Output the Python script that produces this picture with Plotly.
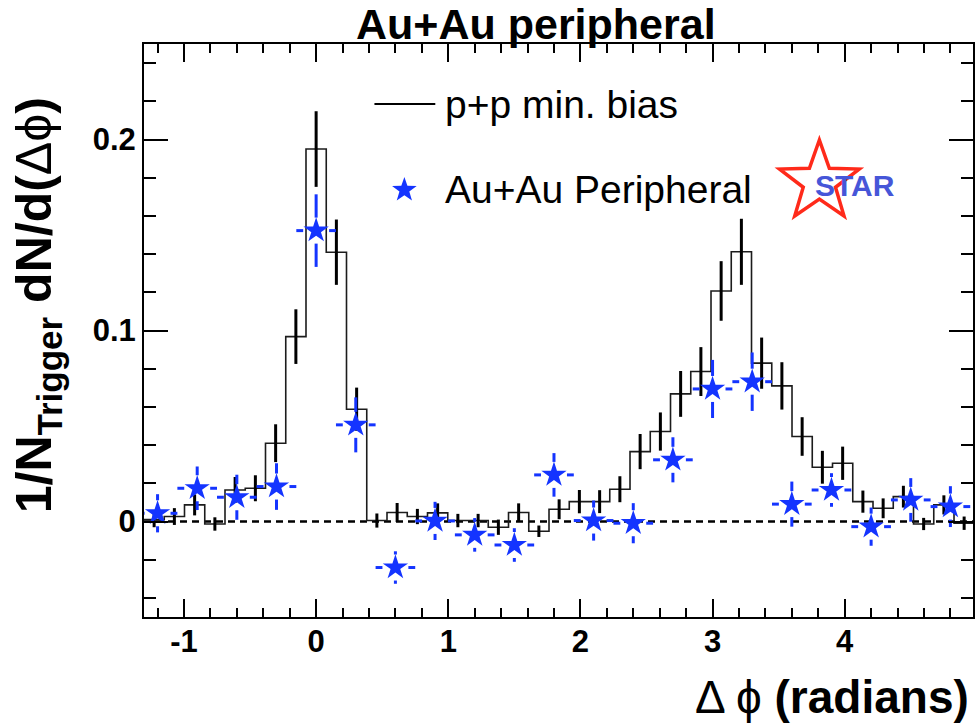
import numpy as np
import plotly.graph_objects as go

# ---------------- data ----------------
BIN_WIDTH = 2 * np.pi / 41          # p+p histogram bin width (41 bins over 2*pi)
pp_bin_index = list(range(-8, 33))  # bin centres = index * BIN_WIDTH
pp_values = [0.001, 0.0026, 0.0087, -0.0013, 0.0165, 0.0174, 0.041, 0.0968, 0.195, 0.141,
             0.0588, 0.0005, 0.0047, 0.0026, 0.0045, 0.0005, 0.0005, -0.003, 0.0047, -0.0051,
             0.0064, 0.0104, 0.0104, 0.0169, 0.0366, 0.0471, 0.0668, 0.0785, 0.1207, 0.1412,
             0.0829, 0.071, 0.0445, 0.0284, 0.0305, 0.0104, 0.0069, 0.013, -0.0013, 0.0087,
             -0.0009]
pp_errors = [0.004, 0.0044, 0.0055, 0.0035, 0.0068, 0.0068, 0.0099, 0.0143, 0.0198, 0.0171,
             0.0113, 0.0037, 0.005, 0.004, 0.005, 0.0035, 0.0035, 0.004, 0.0048, 0.003,
             0.0052, 0.0061, 0.006, 0.0068, 0.0092, 0.01, 0.012, 0.0128, 0.0156, 0.0173,
             0.0134, 0.0124, 0.0101, 0.0086, 0.0087, 0.0058, 0.0052, 0.0057, 0.0032, 0.005,
             0.0035]

auau_x = [-1.2, -0.9, -0.6, -0.3, 0.0, 0.3, 0.6, 0.9, 1.2, 1.5, 1.8, 2.1, 2.4, 2.7, 3.0,
          3.3, 3.6, 3.9, 4.2, 4.5, 4.8]
auau_y = [0.0043, 0.0174, 0.0127, 0.0183, 0.1523, 0.0506, -0.0241, 0.0003, -0.007, -0.0123,
          0.0244, 0.0005, -0.0009, 0.0323, 0.0694, 0.0732, 0.0091, 0.0165, -0.0027, 0.0113,
          0.0078]
auau_yerr = [0.010, 0.0114, 0.0118, 0.0122, 0.019, 0.0144, 0.0085, 0.010, 0.0088, 0.0088,
             0.0114, 0.0105, 0.0105, 0.0118, 0.0152, 0.0153, 0.0118, 0.0088, 0.010, 0.0114,
             0.0107]
auau_xerr = [0.15] * 21

x_tick_vals = [-1, 0, 1, 2, 3, 4]
x_tick_text = ["-1", "0", "1", "2", "3", "4"]
y_tick_vals = [0, 0.1, 0.2]
y_tick_text = ["0", "0.1", "0.2"]

# ---------------- layout geometry ----------------
W, H = 975, 726
ML, MR, MT, MB = 144, 0, 44, 109
PW, PH = W - ML - MR, H - MT - MB
XRANGE = [-8.5 * BIN_WIDTH, 4.971]
YRANGE = [-0.05, 0.25]
px_per_x = PW / (XRANGE[1] - XRANGE[0])
px_per_y = PH / (YRANGE[1] - YRANGE[0])

def paper_x(px):
    return (px - ML) / PW

def paper_y(py):
    return (H - MB - py) / PH

FONT = "Liberation Sans"
BLUE = "#1434ff"

fig = go.Figure()

# p+p histogram (step line)
centers = np.array(pp_bin_index) * BIN_WIDTH
edges = np.append(centers - BIN_WIDTH / 2, centers[-1] + BIN_WIDTH / 2)
step_y = list(pp_values) + [pp_values[-1]]
fig.add_trace(go.Scatter(x=edges, y=step_y, mode="lines",
                         line=dict(shape="hv", color="#1c1c1c", width=1.6),
                         hoverinfo="skip"))
# p+p error bars
fig.add_trace(go.Scatter(x=centers, y=pp_values, mode="markers",
                         marker=dict(size=1, color="rgba(0,0,0,0)"),
                         error_y=dict(type="data", array=pp_errors, color="black",
                                      thickness=3, width=0)))

# Au+Au error bars (segments outside the marker)
gap_px = 13
gx, gy = gap_px / px_per_x, gap_px / px_per_y
ex, ey = [], []
for x, y, dx, dy in zip(auau_x, auau_y, auau_xerr, auau_yerr):
    if dy > gy:
        ex += [x, x, None, x, x, None]
        ey += [y + gy, y + dy, None, y - gy, y - dy, None]
    ex += [x - dx, x - gx, None, x + gx, x + dx, None]
    ey += [y, y, None, y, y, None]
fig.add_trace(go.Scatter(x=ex, y=ey, mode="lines",
                         line=dict(color=BLUE, width=3), hoverinfo="skip"))
# Au+Au stars
fig.add_trace(go.Scatter(x=auau_x, y=auau_y, mode="markers",
                         marker=dict(symbol="star", size=19, color=BLUE,
                                     line=dict(width=0))))

# zero line
shapes = [dict(type="line", xref="paper", x0=0, x1=1, yref="y", y0=0, y1=0,
               line=dict(color="black", width=2.5, dash="7px,5px"), layer="below")]


def star_path(cx, cy, R, r):
    pts = []
    for i in range(10):
        ang = np.pi / 2 + i * np.pi / 5
        rad = R if i % 2 == 0 else r
        pts.append((paper_x(cx + rad * np.cos(ang)), paper_y(cy - rad * np.sin(ang))))
    return "M " + " L ".join(f"{a:.5f},{b:.5f}" for a, b in pts) + " Z"

# legend line
shapes.append(dict(type="line", xref="paper", yref="paper",
                   x0=paper_x(375), x1=paper_x(436), y0=paper_y(104), y1=paper_y(104),
                   line=dict(color="black", width=2)))
# legend star
shapes.append(dict(type="path", xref="paper", yref="paper",
                   path=star_path(405, 190, 13, 5.2), fillcolor=BLUE,
                   line=dict(width=0)))
# STAR logo outline
shapes.append(dict(type="path", xref="paper", yref="paper",
                   path=star_path(821, 182, 42, 17), fillcolor="rgba(0,0,0,0)",
                   line=dict(color="#ff2a1a", width=3.5)))

annotations = [
    dict(text="Au+Au peripheral", xref="paper", yref="paper", x=paper_x(537), y=paper_y(24),
         xanchor="center", yanchor="middle", showarrow=False,
         font=dict(family=FONT, size=43, color="black", weight="bold")),
    dict(text="p+p min. bias", xref="paper", yref="paper", x=paper_x(444), y=paper_y(104),
         xanchor="left", yanchor="middle", showarrow=False,
         font=dict(family=FONT, size=39, color="black")),
    dict(text="Au+Au Peripheral", xref="paper", yref="paper", x=paper_x(444), y=paper_y(189),
         xanchor="left", yanchor="middle", showarrow=False,
         font=dict(family=FONT, size=39, color="black")),
    dict(text="<b>STAR</b>", xref="paper", yref="paper", x=paper_x(857), y=paper_y(186),
         xanchor="center", yanchor="middle", showarrow=False,
         font=dict(family=FONT, size=30, color="#4656d8")),
    dict(text="Δ ϕ <b>(radians)</b>", xref="paper", yref="paper", x=paper_x(973), y=paper_y(697),
         xanchor="right", yanchor="middle", showarrow=False,
         font=dict(family=FONT, size=46, color="black")),
    dict(text="<b>1/N<sub>Trigger</sub> dN/d(</b>Δϕ<b>)</b>", xref="paper", yref="paper",
         x=paper_x(37), y=paper_y(95), xanchor="center", yanchor="top", textangle=-90,
         showarrow=False, font=dict(family=FONT, size=50, color="black")),
]

fig.update_layout(
    width=W, height=H, margin=dict(l=ML, r=MR, t=MT, b=MB),
    paper_bgcolor="white", plot_bgcolor="white", showlegend=False,
    shapes=shapes, annotations=annotations,
)
fig.update_xaxes(range=XRANGE, showgrid=False, zeroline=False, showline=True,
                 linecolor="black", linewidth=2, mirror="ticks",
                 ticks="inside", ticklen=18, tickwidth=2, tickcolor="black",
                 tickmode="array", tickvals=x_tick_vals, ticktext=x_tick_text,
                 ticklabelstandoff=-4,
                 tickfont=dict(family=FONT, size=31, color="black", weight="bold"),
                 minor=dict(tickmode="linear", tick0=0, dtick=0.2, ticks="inside",
                            ticklen=9, tickwidth=2, tickcolor="black", showgrid=False))
fig.update_yaxes(range=YRANGE, showgrid=False, zeroline=False, showline=True,
                 linecolor="black", linewidth=2, mirror="ticks",
                 ticks="inside", ticklen=24, tickwidth=2, tickcolor="black",
                 tickmode="array", tickvals=y_tick_vals, ticktext=y_tick_text,
                 ticklabelstandoff=0,
                 tickfont=dict(family=FONT, size=31, color="black", weight="bold"),
                 minor=dict(tickmode="linear", tick0=0, dtick=0.02, ticks="inside",
                            ticklen=12, tickwidth=2, tickcolor="black", showgrid=False))

fig.write_html("out.html")
